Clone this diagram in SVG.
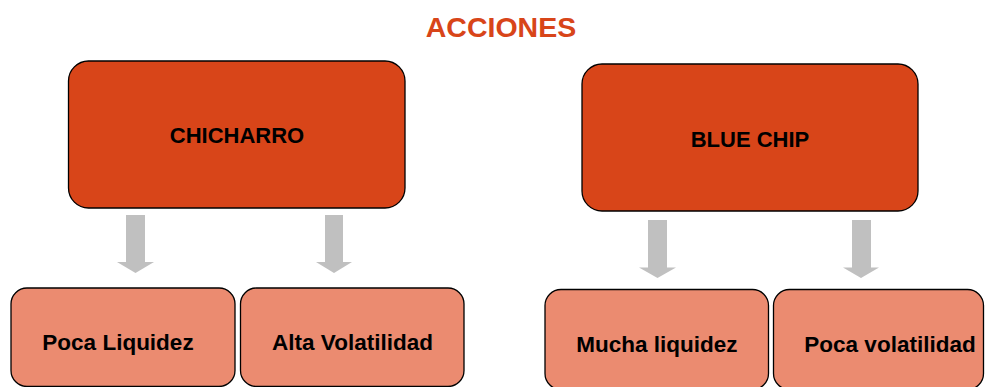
<svg xmlns="http://www.w3.org/2000/svg" width="985" height="387" viewBox="0 0 985 387">
<defs>
<style>
.main{fill:#D84519;stroke:#000;stroke-width:1.3}
.sub{fill:#EB8B70;stroke:#000;stroke-width:1.3}
.t{font-family:"Liberation Sans",Arial,sans-serif;font-weight:bold;font-size:22px;fill:#000;text-anchor:middle}
.s{font-size:22.5px}
.title{font-family:"Liberation Sans",Arial,sans-serif;font-weight:bold;font-size:28.5px;fill:#D84519;text-anchor:middle}
.arr{fill:#C0C0C0}
</style>
</defs>
<rect width="985" height="387" fill="#fff"/>
<text class="title" x="501" y="37">ACCIONES</text>
<g id="connectors">
<polygon class="arr" points="126,215 145,215 145,262 154,262 135.5,273 117,262 126,262"/>
<polygon class="arr" points="325,215 343,215 343,262 352,262 334,273 316,262 325,262"/>
<polygon class="arr" points="648,220 667,220 667,267.5 676,267.5 657.5,278 639,267.5 648,267.5"/>
<polygon class="arr" points="852,220 871,220 871,267.5 879,267.5 861,278 843,267.5 852,267.5"/>
</g>
<g id="chicharro">
<rect class="main" x="68.5" y="61" width="336.5" height="147" rx="20"/>
<text class="t" x="237" y="143">CHICHARRO</text>
</g>
<g id="bluechip">
<rect class="main" x="582" y="64" width="336" height="147" rx="20"/>
<text class="t" x="750" y="147">BLUE CHIP</text>
</g>
<g id="poca-liquidez">
<rect class="sub" x="11" y="288" width="224" height="98.5" rx="16"/>
<text class="t s" x="118" y="350">Poca Liquidez</text>
</g>
<g id="alta-volatilidad">
<rect class="sub" x="240.5" y="288" width="223.5" height="98.5" rx="16"/>
<text class="t s" x="352.5" y="350">Alta Volatilidad</text>
</g>
<g id="mucha-liquidez">
<rect class="sub" x="545" y="289.5" width="223.5" height="100" rx="16"/>
<text class="t s" x="657" y="352">Mucha liquidez</text>
</g>
<g id="poca-volatilidad">
<rect class="sub" x="773.5" y="289.5" width="210" height="100" rx="16"/>
<text class="t s" x="890" y="352">Poca volatilidad</text>
</g>
</svg>
